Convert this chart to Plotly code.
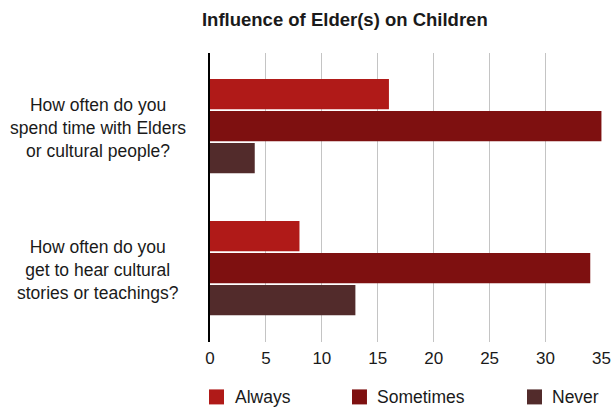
import plotly.graph_objects as go

# Survey questions (one group of bars each)
questions = [
    "How often do you<br>spend time with Elders<br>or cultural people?",
    "How often do you<br>get to hear cultural<br>stories or teachings?",
]
question_keys = ["spend_time", "hear_stories"]

# Response counts per answer
always = [16, 8]
sometimes = [35, 34]
never = [4, 13]

series_names = ["Always", "Sometimes", "Never"]
series_values = [always, sometimes, never]
series_colors = ["#B01A18", "#7E1010", "#522B2B"]

x_ticks = [0, 5, 10, 15, 20, 25, 30, 35]

FONT = "Liberation Sans, Arial, Helvetica, sans-serif"
TEXT = "#1a1a1a"

fig = go.Figure()
for name, vals, color in zip(series_names, series_values, series_colors):
    fig.add_trace(go.Bar(
        name=name,
        y=question_keys,
        x=vals,
        orientation="h",
        marker=dict(color=color, line=dict(width=0)),
        showlegend=False,
    ))

# Centered multi-line category labels on the left
for key, label in zip(question_keys, questions):
    fig.add_annotation(
        xref="paper", yref="y",
        x=-0.285, y=key, yshift=-2,
        text=label, showarrow=False,
        xanchor="center", yanchor="middle", align="center",
        font=dict(family=FONT, size=17.5, color=TEXT),
    )

# Legend row below the axis: square swatch + label per series
legend_x = [0.0166, 0.3813, 0.8278]   # swatch centres in plot-width fractions
legend_y = -0.19
for name, color, lx in zip(series_names, series_colors, legend_x):
    fig.add_shape(
        type="rect", xref="paper", yref="paper",
        xsizemode="pixel", ysizemode="pixel",
        xanchor=lx, yanchor=legend_y,
        x0=-7.5, x1=7.5, y0=-7.5, y1=7.5,
        fillcolor=color, line=dict(width=0),
    )
    fig.add_annotation(
        xref="paper", yref="paper",
        x=lx, y=legend_y, xshift=16,
        text=name, showarrow=False,
        xanchor="left", yanchor="middle",
        font=dict(family=FONT, size=17.5, color=TEXT),
    )

fig.update_layout(
    width=613, height=408,
    margin=dict(l=210, r=11, t=53, b=66, autoexpand=False),
    paper_bgcolor="white",
    plot_bgcolor="white",
    barmode="group",
    bargap=0.324,
    bargroupgap=0.06,
    showlegend=False,
    title=dict(
        text="<b>Influence of Elder(s) on Children</b>",
        xref="paper", yref="container",
        x=0.344, xanchor="center",
        y=0.951, yanchor="middle",
        font=dict(family=FONT, size=18.5, color=TEXT),
    ),
    font=dict(family=FONT, color=TEXT),
    xaxis=dict(
        range=[0, 35.05],
        tickvals=x_ticks,
        ticktext=[str(t) for t in x_ticks],
        showgrid=True,
        gridcolor="#C4C4C4",
        gridwidth=1,
        zeroline=False,
        showline=False,
        ticks="",
        ticklabelstandoff=4,
        tickfont=dict(family=FONT, size=17, color=TEXT),
    ),
    yaxis=dict(
        type="category",
        categoryarray=question_keys,
        range=[1.52, -0.515],
        showticklabels=False,
        showgrid=False,
        zeroline=False,
        showline=True,
        linecolor="#000000",
        linewidth=2,
        ticks="",
    ),
)

fig.write_html("out.html")
